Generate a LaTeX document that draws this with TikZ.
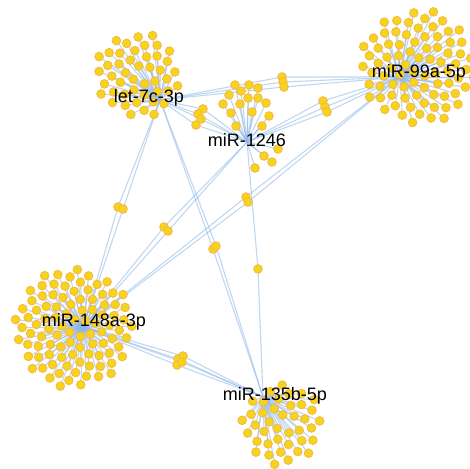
\documentclass[tikz,border=0pt]{standalone}
\usepackage{fontspec}
\setmainfont{Liberation Sans}
\usetikzlibrary{calc}

\definecolor{linkblue}{RGB}{140,182,230}
\definecolor{geneyellow}{RGB}{242,214,28}
\definecolor{generim}{RGB}{250,182,70}

\tikzset{
  gene/.style={circle,fill=geneyellow,draw=generim,line width=0.9pt,
    inner sep=0pt,minimum size=8.6pt},
  link/.style={draw=linkblue,line width=1.1pt,opacity=0.55},
  mirna/.style={font=\fontsize{18}{20}\selectfont,text=black,inner sep=0pt}
}

\begin{document}
\begin{tikzpicture}[x=1pt,y=-1pt]
    \useasboundingbox (0,0) rectangle (470,468);

    % hubs
    \coordinate (let7c) at (160,100);
    \coordinate (mir99a) at (400,77);
    \coordinate (mir1246) at (247,142);
    \coordinate (mir148a) at (83,327);
    \coordinate (mir135b) at (263,397);

    % targets of a single miRNA, sunflower discs
    \foreach \i in {1,...,46}
        \coordinate (let7c-\i) at ($(138,75)+({137.508*\i}:{43*sqrt(\i/46)})$);
    \foreach \i in {1,...,80}
        \coordinate (mir99a-\i) at ($(418,67)+({137.508*\i}:{58*sqrt(\i/80)})$);
    \foreach \i in {1,...,96}
        \coordinate (mir148a-\i) at ($(74,328)+({137.508*\i}:{60*sqrt(\i/96)})$);
    \foreach \i in {1,...,40}
        \coordinate (mir135b-\i) at ($(282,424)+({137.508*\i}:{41*sqrt(\i/40)})$);
    \foreach \x/\y [count=\i] in {235/85, 249/85, 258/88, 241/91, 229/95, 248/98,
        258/98, 223/104, 240/104, 266/103, 231/113, 252/112, 269/116, 236/126,
        262/126, 278/149, 264/156, 272/162, 255/168}
        \coordinate (mir1246-\i) at (\x,\y);

    % targets shared by two miRNAs
    \foreach \x/\y [count=\k] in {118/207, 123/209, 164/227, 168/231, 246/197,
        248/202, 213/249, 216/246, 258/269, 282/77, 283/82, 284/87, 323/101,
        325/107, 327/112, 178/359, 183/356, 177/365, 182/362, 203/109, 198/114,
        201/119, 196/125}
        \coordinate (shared-\k) at (\x,\y);

    % links
    \foreach \hub/\n in {let7c/46, mir99a/80, mir148a/96, mir135b/40, mir1246/19}
        \foreach \i in {1,...,\n}
            \draw[link] (\hub) -- (\hub-\i);
    \foreach \a/\b [count=\k] in {let7c/mir148a, let7c/mir148a,
        mir148a/mir1246, mir148a/mir1246, mir148a/mir99a, mir148a/mir99a,
        let7c/mir135b, let7c/mir135b, mir1246/mir135b,
        let7c/mir99a, let7c/mir99a, let7c/mir99a,
        mir1246/mir99a, mir1246/mir99a, mir1246/mir99a,
        mir148a/mir135b, mir148a/mir135b, mir148a/mir135b, mir148a/mir135b,
        let7c/mir1246, let7c/mir1246, let7c/mir1246, let7c/mir1246}
        \draw[link] (\a) -- (shared-\k) -- (\b);

    % target dots
    \foreach \hub/\n in {let7c/46, mir99a/80, mir148a/96, mir135b/40, mir1246/19}
        \foreach \i in {1,...,\n}
            \node[gene] (dot-\hub-\i) at (\hub-\i) {};
    \foreach \k in {1,...,23}
        \node[gene] (dot-shared-\k) at (shared-\k) {};

    % miRNA names
    \node[mirna] (name-let7c) at (149,98) {let-7c-3p};
    \node[mirna] (name-mir99a) at (419,73) {miR-99a-5p};
    \node[mirna] (name-mir1246) at (247,140) {miR-1246};
    \node[mirna] (name-mir148a) at (94,322) {miR-148a-3p};
    \node[mirna] (name-mir135b) at (275,396) {miR-135b-5p};
\end{tikzpicture}
\end{document}
